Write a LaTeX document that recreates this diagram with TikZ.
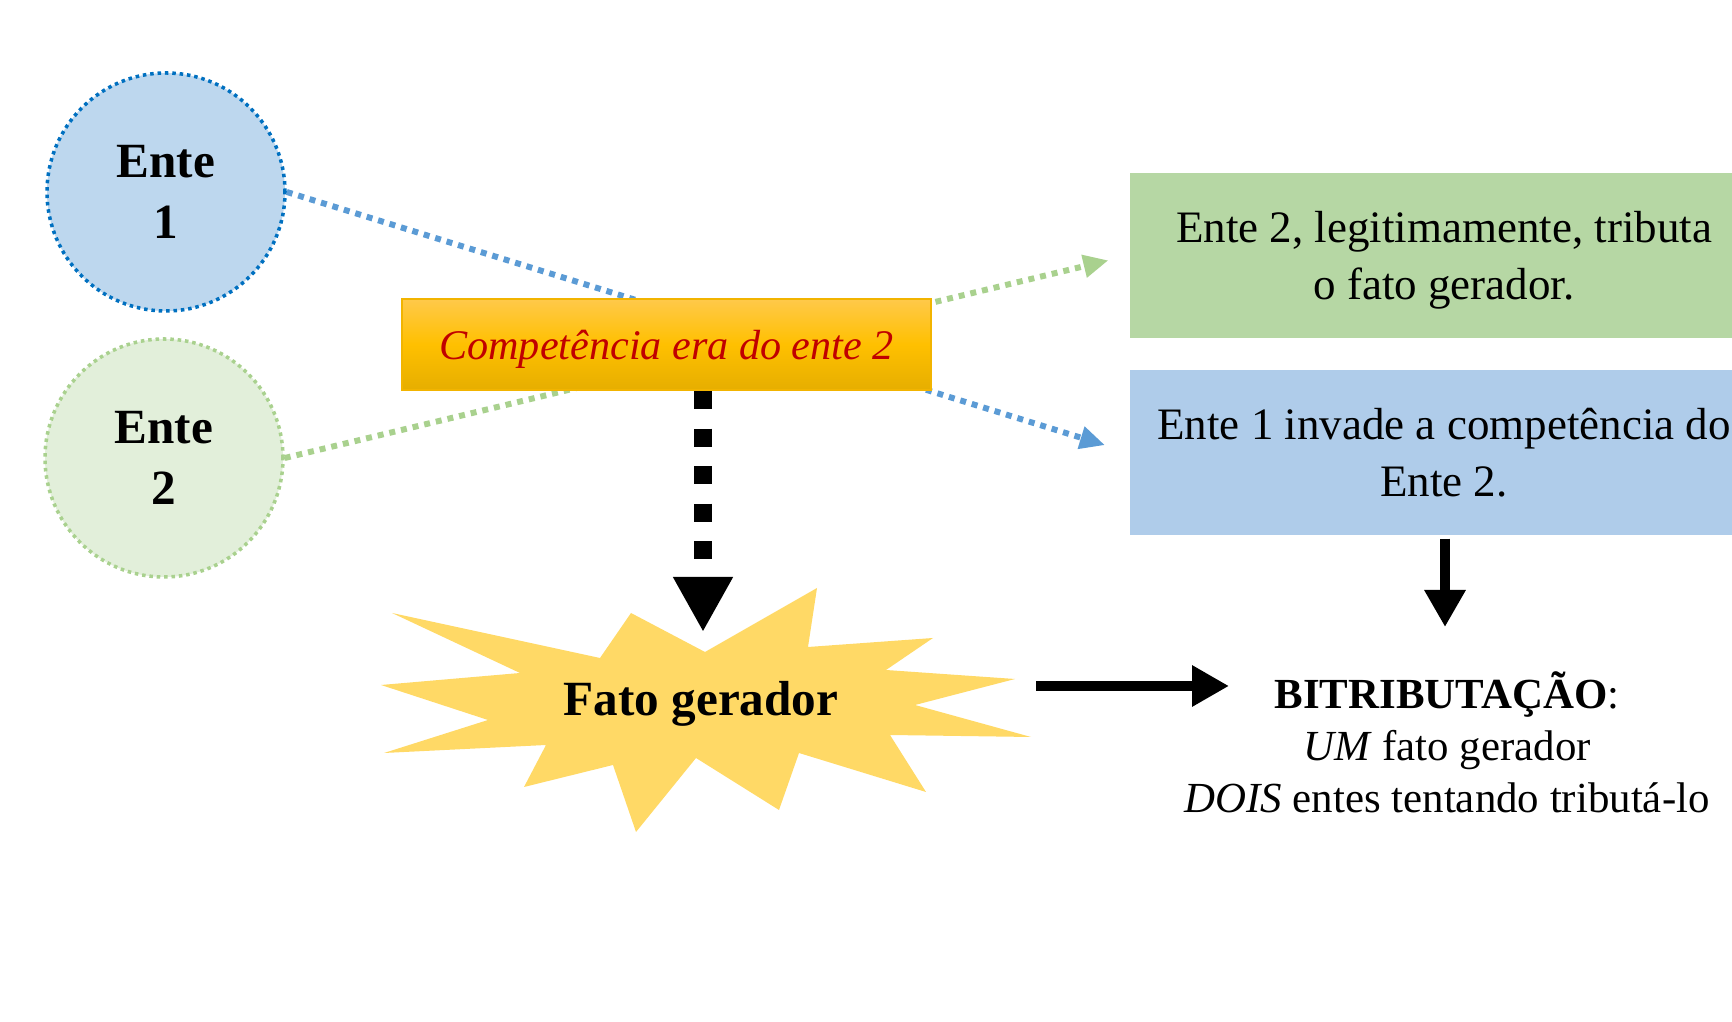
\documentclass[tikz,border=0pt]{standalone}
\usepackage{fontspec}
\setmainfont{Liberation Serif}
\usepackage{xcolor}
\usepackage{tikz}
\usetikzlibrary{calc,arrows.meta}

\definecolor{enteUmFundo}{HTML}{BDD7EE}
\definecolor{enteUmBorda}{HTML}{0070C0}
\definecolor{enteDoisFundo}{HTML}{E2EFDA}
\definecolor{enteDoisBorda}{HTML}{A9D18E}
\definecolor{linhaAzul}{HTML}{5B9BD5}
\definecolor{linhaVerde}{HTML}{A9D18E}
\definecolor{caixaVerde}{HTML}{B6D7A4}
\definecolor{caixaAzul}{HTML}{AFCCEA}
\definecolor{compTopo}{HTML}{FFC94A}
\definecolor{compMeio}{HTML}{FFC000}
\definecolor{compBase}{HTML}{E6AE00}
\definecolor{compBorda}{HTML}{F2B400}
\definecolor{compTexto}{HTML}{C00000}
\definecolor{estrela}{HTML}{FFD966}

\begin{document}
\begin{tikzpicture}[
    ente/.style={circle, minimum size=2.38cm, inner sep=0pt, align=center,
        line width=1pt, dash pattern=on 1pt off 1.1pt,
        font=\fontsize{14}{17.3}\selectfont\bfseries},
    caixa/.style={minimum width=6.29cm, minimum height=1.65cm, inner sep=0pt,
        align=center, text depth=0pt, font=\fontsize{12.8}{16.2}\selectfont},
    pontilhada/.style={line width=1.7pt, dash pattern=on 1.7pt off 1.7pt,
        -{Triangle[length=2.5mm,width=2.2mm]}},
    seta/.style={line width=3.1pt, -{Triangle[length=3.7mm,width=3.9mm]}}
]
    \useasboundingbox (0,0) rectangle (17.32,10.22);
    \clip (0,0) rectangle (17.32,10.22);
    % Entes
    \node[ente, fill=enteUmFundo, draw=enteUmBorda] (e1) at (1.66,8.30) {Ente\\1};
    \node[ente, fill=enteDoisFundo, draw=enteDoisBorda] (e2) at (1.64,5.64) {Ente\\2};
    %
    \node[caixa, fill=caixaVerde] (legit) at (14.44,7.665)
        {Ente 2, legitimamente, tributa\\o fato gerador.};
    \node[caixa, fill=caixaAzul] (invade) at (14.44,5.695)
        {Ente 1 invade a competência do\\Ente 2.};
    %
    \draw[pontilhada, linhaAzul, shorten >=2.5mm] (e1.east) -- (invade.west);
    \draw[pontilhada, linhaVerde, shorten >=2.1mm] (e2.east) -- (legit.west);
    %
    \node[draw=compBorda, line width=0.6pt, top color=compTopo, bottom color=compBase,
        middle color=compMeio, minimum width=5.29cm, minimum height=0.91cm, text depth=0pt,
        text=compTexto, font=\fontsize{12}{14}\selectfont\itshape] (comp) at (6.665,6.775)
        {Competência era do ente 2};
    % Fato gerador
    \fill[estrela] (3.81,3.37) -- (5.20,3.49) -- (3.92,4.09) -- (6.00,3.64)
        -- (6.31,4.09) -- (7.05,3.70) -- (8.17,4.34) -- (8.08,3.75)
        -- (9.33,3.84) -- (8.86,3.52) -- (10.15,3.43) -- (9.15,3.17)
        -- (10.31,2.85) -- (8.90,2.87) -- (9.26,2.30) -- (7.99,2.69)
        -- (7.79,2.12) -- (6.96,2.64) -- (6.36,1.90) -- (6.13,2.57)
        -- (5.24,2.35) -- (5.46,2.77) -- (3.84,2.69) -- (4.88,3.02) -- cycle;
    \node[font=\fontsize{14}{17}\selectfont\bfseries] (fato) at (7.01,3.18) {Fato gerador};
    %
    \coordinate (compPonta) at (7.03,3.90);
    \draw[line width=0.18cm, dash pattern=on 0.18cm off 0.195cm,
        -{Triangle[length=5.5mm,width=5.6mm]}] (comp.south -| compPonta) -- (compPonta);
    % Bitributacao
    \node[align=center, font=\fontsize{12.2}{14.8}\selectfont] (bitrib) at (14.47,2.80)
        {\textbf{BITRIBUTAÇÃO}:\\\textit{UM} fato gerador\\\textit{DOIS} entes tentando tributá-lo};
    %
    \coordinate (fatoFim) at (10.36,3.36);
    \coordinate (bitribPonta) at (12.29,3.36);
    \draw[seta] (fatoFim) -- (bitribPonta);
    \coordinate (invadePonta) at (14.45,3.95);
    \draw[seta, shorten <=0.3mm] (invade.south -| invadePonta) -- (invadePonta);
\end{tikzpicture}
\end{document}
